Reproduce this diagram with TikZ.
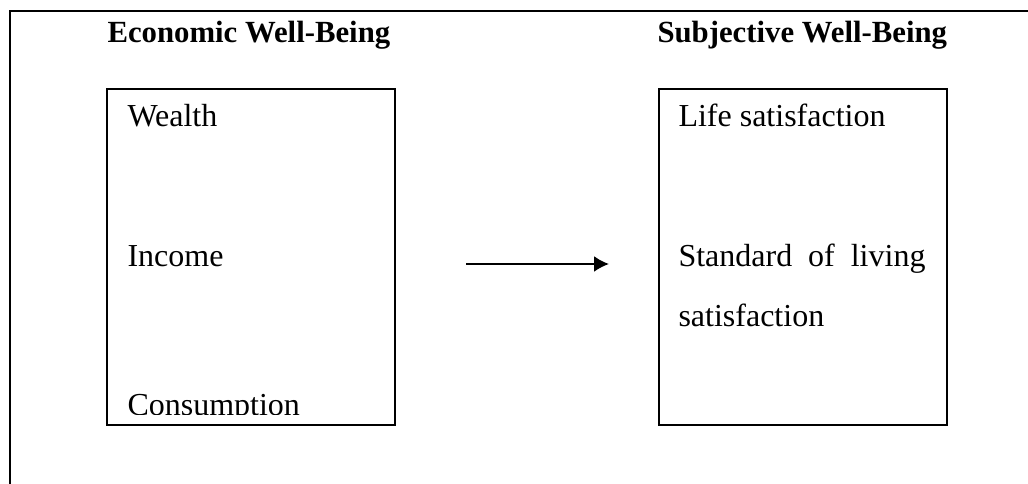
\documentclass[tikz,border=0pt]{standalone}
\usepackage{fontspec}
\setmainfont{Liberation Serif}
\usetikzlibrary{arrows.meta,positioning}

\begin{document}
\begin{tikzpicture}[
    x=0.4pt, y=-0.4pt,
    frame/.style={draw=black, line width=0.8pt},
    panel/.style={rectangle, draw=black, line width=0.8pt, minimum width=115.2pt, minimum height=134.4pt, anchor=north west},
    heading/.style={inner sep=0pt, anchor=base west, font=\fontsize{12.3}{14}\selectfont\bfseries},
    item/.style={inner sep=0pt, anchor=base west, font=\fontsize{12.8}{24}\selectfont},
    arr/.style={-{Latex[length=6pt, width=6.4pt]}, line width=0.8pt}
]
\useasboundingbox (0,0) rectangle (1028,484);
% open outer frame
\draw[frame] (10,484) -- (10,11) -- (1028,11);
% headings
\node[heading] (econ-title) at (107,43) {Economic Well-Being};
\node[heading] (subj-title) at (657,43) {Subjective Well-Being};
% the two panels
\node[panel] (econ) at (106,88) {};
\node[panel] (subj) at (658,88) {};
% economic side
\node[item] (wealth) at (127,127) {Wealth};
\node[item] (income) at (127,267) {Income};
\begin{scope}
  \clip (econ.north west) rectangle ([yshift=4.4pt]econ.south east);
  \node[item] (consumption) at (127,416) {Consumption};
\end{scope}
% subjective side
\node[item] (life) at (678,127) {Life satisfaction};
\node[item, text width=98.8pt, align=justify] (living) at (678,267) {Standard of living satisfaction};
% link
\coordinate (arrow-start) at (466,264);
\coordinate (arrow-end) at (609,264);
\draw[arr] (arrow-start) -- (arrow-end);
\end{tikzpicture}
\end{document}
